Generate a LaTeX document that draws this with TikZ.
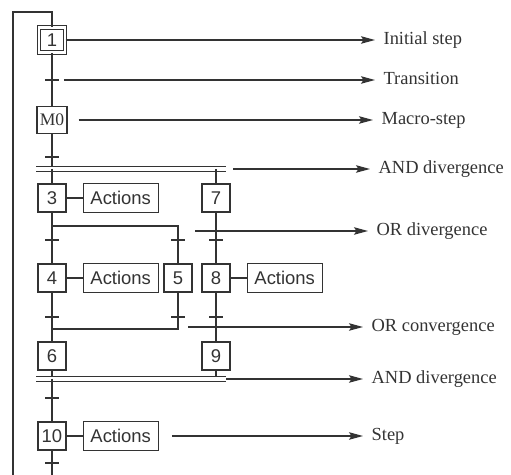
\documentclass[tikz,border=0pt]{standalone}
\usepackage{fontspec}
\setmainfont{Liberation Serif}
\setsansfont{Liberation Sans}
\usetikzlibrary{arrows.meta,positioning}
\definecolor{InkGray}{HTML}{333333}

\begin{document}
\begin{tikzpicture}[
  x=0.02cm, y=-0.02cm,
  font=\sffamily\fontsize{10.5}{12}\selectfont,
  line width=0.7pt, color=InkGray,
  stepbox/.style={draw, minimum width=5.6mm, minimum height=5.6mm, inner sep=0pt},
  initbox/.style={stepbox, minimum width=5.2mm, minimum height=5mm, double, double distance=1.3pt},
  actbox/.style={draw, minimum width=15mm, minimum height=5.8mm, inner sep=0pt},
  trbar/.style={minimum width=2.8mm, minimum height=0pt, inner sep=0pt, outer sep=0pt},
  andbar/.style={double, double distance=1.8pt, line width=0.6pt},
  callout/.style={-{Stealth[length=2.8mm, width=1.5mm, inset=0.5mm]}},
  note/.style={font=\rmfamily\fontsize{10.5}{12}\selectfont, anchor=west, inner xsep=1.6mm, inner ysep=0pt,
               text height=1.6ex, text depth=0.4ex}
]
\useasboundingbox (0,0) rectangle (511,475);

% steps and transitions
\node[initbox] (s1) at (52,40) {1};
\node[trbar] (t1) at (52,80) {};
\node[stepbox, minimum width=6mm, minimum height=5.4mm, font=\rmfamily\fontsize{10}{12}\selectfont] (m0) at (52,120) {M0};
\node[trbar] (t2) at (52,157) {};
\coordinate (and1L) at (36,169);
\coordinate (and1R) at (226,169);
\node[stepbox] (s3) at (52,198) {3};
\node[stepbox] (s7) at (216,198) {7};
\node[actbox, right=3.2mm of s3] (a3) {Actions};
\coordinate (or1L) at (52,226);
\node[trbar] (t4) at (52,240) {};
\node[trbar] (t5) at (178,240) {};
\node[trbar] (t8) at (216,240) {};
\node[stepbox] (s4) at (52,278) {4};
\node[stepbox] (s5) at (178,278) {5};
\node[stepbox] (s8) at (216,278) {8};
\node[actbox, right=3.2mm of s4] (a4) {Actions};
\node[actbox, right=3.2mm of s8] (a8) {Actions};
\node[trbar] (t6) at (52,317) {};
\node[trbar] (t7) at (178,317) {};
\node[trbar] (t9) at (216,317) {};
\coordinate (or2L) at (52,329);
\node[stepbox] (s6) at (52,356) {6};
\node[stepbox] (s9) at (216,356) {9};
\coordinate (and2L) at (36,379);
\coordinate (and2R) at (226,379);
\node[trbar] (t10) at (52,398) {};
\node[stepbox] (s10) at (52,436) {10};
\node[actbox, right=3.2mm of s10] (a10) {Actions};
\node[trbar] (t11) at (52,463) {};
\coordinate (loopB) at (13,475);
\coordinate (loopT) at (13,12);
\coordinate (endB) at (52,475);
\coordinate (cOrD) at (195,231);
\coordinate (cOrC) at (188,327);

% transition bars
\foreach \t in {t1,t2,t4,t5,t6,t7,t8,t9,t10,t11}
  \draw (\t.west) -- (\t.east);

% links
\draw (loopB) -- (loopT) -- (loopT -| s1) -- (s1);
\draw (s1) -- (t1.center) -- (m0) -- (t2.center) -- (t2 |- and1L);
\draw[andbar] (and1L) -- (and1R);
\draw (s3 |- and1L) -- (s3) -- (t4.center) -- (s4) -- (t6.center) -- (s6) -- (s6 |- and2L);
\draw (s7 |- and1L) -- (s7) -- (t8.center) -- (s8) -- (t9.center) -- (s9) -- (s9 |- and2L);
\draw (or1L) -| (t5.center) -- (s5) -- (t7.center) -- (t7 |- or2L) -- (or2L);
\draw[andbar] (and2L) -- (and2R);
\draw (s6 |- and2L) -- (t10.center) -- (s10) -- (t11.center) -- (endB);
\draw (s3) -- (a3);
\draw (s4) -- (a4);
\draw (s8) -- (a8);
\draw (s10) -- (a10);

% legend
\node[note] (lInit) at (375,40) {Initial step};
\node[note] (lTrans) at (375,80) {Transition};
\node[note] (lMacro) at (373,120) {Macro-step};
\node[note] (lAnd1) at (370,169) {AND divergence};
\node[note] (lOrD) at (368,231) {OR divergence};
\node[note] (lOrC) at (363,327) {OR convergence};
\node[note] (lAnd2) at (363,379) {AND divergence};
\node[note] (lStep) at (363,436) {Step};

\draw[callout] (s1.east) -- (lInit.west);
\draw[callout, shorten <=1mm] (t1.east) -- (lTrans.west);
\draw[callout, shorten <=2.2mm] (m0.east) -- (lMacro.west);
\draw[callout, shorten <=1.4mm] (and1R) -- (lAnd1.west);
\draw[callout] (cOrD) -- (lOrD.west);
\draw[callout] (cOrC) -- (lOrC.west);
\draw[callout] (and2R) -- (lAnd2.west);
\draw[callout, shorten <=2.6mm] (a10.east) -- (lStep.west);
\end{tikzpicture}
\end{document}
